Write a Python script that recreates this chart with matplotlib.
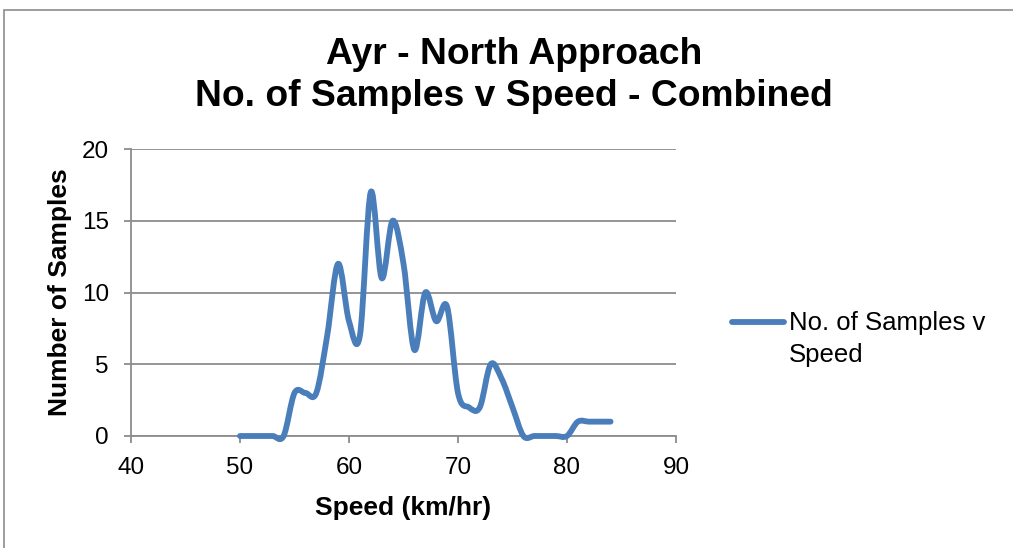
import matplotlib
matplotlib.use("Agg")
import matplotlib.pyplot as plt
from matplotlib.path import Path
from matplotlib.patches import PathPatch, Rectangle
from matplotlib.lines import Line2D

speed = [50, 51, 52, 53, 54, 55, 56, 57, 58, 59, 60, 61, 62, 63, 64, 65, 66, 67,
         68, 69, 70, 71, 72, 73, 74, 75, 76, 77, 78, 79, 80, 81, 82, 83, 84]
samples = [0, 0, 0, 0, 0, 3, 3, 3, 7, 12, 8, 7, 17, 11, 15, 12, 6, 10,
           8, 9, 3, 2, 2, 5, 4, 2, 0, 0, 0, 0, 0, 1, 1, 1, 1]
x_ticks = [40, 50, 60, 70, 80, 90]
y_ticks = [0, 5, 10, 15, 20]
title_lines = ["Ayr - North Approach", "No. of Samples v Speed - Combined"]
series_name = "No. of Samples v\nSpeed"
x_label = "Speed (km/hr)"
y_label = "Number of Samples"

plt.rcParams['font.family'] = ['Liberation Sans', 'DejaVu Sans']
color = '#4A7EBB'
grid_c = '#8C8C8C'
W, H = 1013, 548

fig = plt.figure(figsize=(W/100, H/100), dpi=100)
# outer chart border
fig.patches.append(Rectangle((4/W, -0.1), 1.2, (H-10)/H + 0.1,
                             transform=fig.transFigure, fill=False,
                             edgecolor=grid_c, lw=1.2))

ax = fig.add_axes([131/W, (H-436)/H, 545/W, 287/H])
ax.set_xlim(x_ticks[0], x_ticks[-1])
ax.set_ylim(y_ticks[0], y_ticks[-1])

# Excel-style smoothed line: cubic Bezier with Catmull-Rom control points
n = len(speed)
verts = [(speed[0], samples[0])]
codes = [Path.MOVETO]
for i in range(n - 1):
    p0 = (speed[max(i-1, 0)], samples[max(i-1, 0)])
    p1 = (speed[i], samples[i])
    p2 = (speed[i+1], samples[i+1])
    p3 = (speed[min(i+2, n-1)], samples[min(i+2, n-1)])
    c1 = (p1[0] + (p2[0]-p0[0])/6, p1[1] + (p2[1]-p0[1])/6)
    c2 = (p2[0] - (p3[0]-p1[0])/6, p2[1] - (p3[1]-p1[1])/6)
    verts += [c1, c2, p2]
    codes += [Path.CURVE4] * 3
ax.add_patch(PathPatch(Path(verts, codes), fill=False, edgecolor=color,
                       lw=4.2, capstyle='round', joinstyle='round', zorder=3,
                       clip_on=False))

ax.set_xticks(x_ticks)
ax.set_yticks(y_ticks)
ax.grid(axis='y', color=grid_c, lw=1.3)
ax.set_axisbelow(True)
for s in ['top', 'right']:
    ax.spines[s].set_visible(False)
for s in ['left', 'bottom']:
    ax.spines[s].set_color(grid_c)
    ax.spines[s].set_linewidth(1.3)
ax.tick_params(axis='both', colors=grid_c, labelcolor='black', labelsize=17.5,
               length=5, width=1.3)
ax.tick_params(axis='x', pad=10)
ax.tick_params(axis='y', pad=11)

fig.text(403/W, 1 - 508/H, x_label, ha='center', va='center',
         fontsize=19, fontweight='bold')
fig.text(60/W, 1 - 292/H, y_label, ha='center', va='center',
         fontsize=19, fontweight='bold', rotation=90)

fig.text(514/W, 1 - 55/H, title_lines[0], ha='center', va='center',
         fontsize=26.8, fontweight='bold')
fig.text(514/W, 1 - 97/H, title_lines[1], ha='center', va='center',
         fontsize=26.8, fontweight='bold')

# legend (drawn as in the reference: handle aligned with first text line)
fig.add_artist(Line2D([732/W, 784/W], [1 - 322/H, 1 - 322/H],
                      transform=fig.transFigure, color=color, lw=4.2,
                      solid_capstyle='round'))
fig.text(789/W, 1 - 339/H, series_name, ha='left', va='center',
         fontsize=18.5, linespacing=1.38)

fig.savefig("out.png", dpi=100)
